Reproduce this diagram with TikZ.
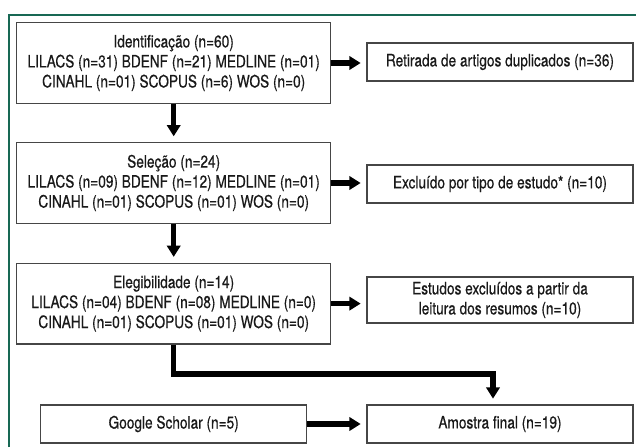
\documentclass[tikz,border=0pt]{standalone}
\usepackage{fontspec}
\setmainfont{TeX Gyre Heros}[FakeStretch=0.8, FakeBold=0.5]
\usetikzlibrary{arrows.meta}

\definecolor{moldura}{RGB}{24,104,84}
\definecolor{borda}{RGB}{70,70,70}

\tikzset{
  caixa/.style={draw=borda, line width=0.9pt, align=center, inner sep=0pt,
    font=\fontsize{12.8}{15}\selectfont, text=black!90},
  fonte/.style={caixa, minimum width=235.5pt, minimum height=60.5pt},
  saida/.style={caixa, minimum width=199.5pt, minimum height=28.5pt},
  seta/.style={line width=3.8pt, -{Triangle[length=8.5pt,width=10pt]}, shorten >=4.3pt}
}

\begin{document}
\begin{tikzpicture}[x=0.75pt,y=0.75pt,yscale=-1,xscale=1]
\useasboundingbox (0,0) rectangle (636,447);

%Frame
\draw[moldura, line width=0.9pt] (9,447) -- (9,15) -- (636,15);

% Left column
\node[fonte] (id) at (173.7,63) {Identificação (n=60)\\LILACS (n=31) BDENF (n=21) MEDLINE (n=01)\\CINAHL (n=01) SCOPUS (n=6) WOS (n=0)};
\node[fonte] (sel) at (173.7,183) {Seleção (n=24)\\LILACS (n=09) BDENF (n=12) MEDLINE (n=01)\\CINAHL (n=01) SCOPUS (n=01) WOS (n=0)};
\node[fonte] (eleg) at (173.7,303.6) {Elegibilidade (n=14)\\LILACS (n=04) BDENF (n=08) MEDLINE (n=0)\\CINAHL (n=01) SCOPUS (n=01) WOS (n=0)};
\node[saida] (goo) at (173.7,424) {Google Scholar (n=5)};

% Right column
\node[saida] (ret) at (500,62) {Retirada de artigos duplicados (n=36)};
\node[saida] (exc) at (500,184) {Excluído por tipo de estudo* (n=10)};
\node[saida, minimum height=34.5pt] (est) at (500,300) {Estudos excluídos a partir da\\leitura dos resumos (n=10)};
\node[saida] (amo) at (500,424) {Amostra final (n=19)};

% Arrows
\draw[seta] (id.east) -- (id.east -| ret.west);
\draw[seta] (sel.east) -- (sel.east -| exc.west);
\draw[seta] (eleg.east) -- (eleg.east -| est.west);
\draw[seta] (goo.east) -- (amo.west);
\draw[seta] (id.south) -- (sel.north);
\draw[seta] (sel.south) -- (eleg.north);

\coordinate (desvio) at (493,374);
\draw[seta] (eleg.south) |- (desvio) -- (desvio |- amo.north);

\end{tikzpicture}
\end{document}
